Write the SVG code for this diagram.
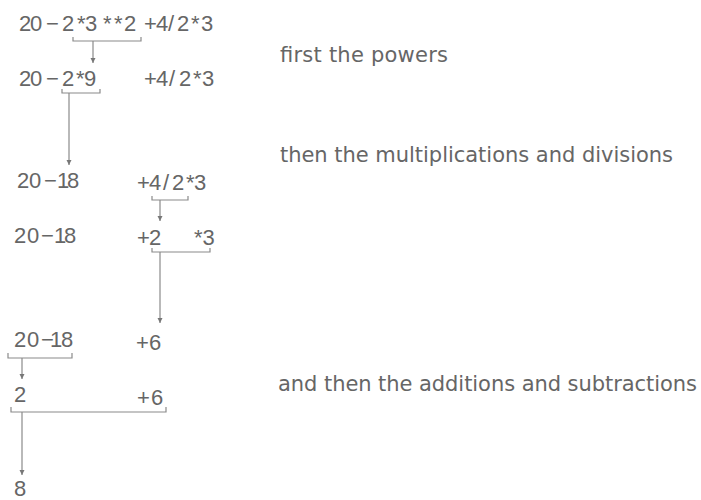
<svg xmlns="http://www.w3.org/2000/svg" width="701" height="500" viewBox="0 0 701 500">
<style>
.ex{font-family:"Liberation Sans",Arial,sans-serif;font-size:22px;fill:#666}
.lb{font-family:"DejaVu Sans",sans-serif;font-size:21px;fill:#666}
.br{fill:none;stroke:#8a8a8a;stroke-width:1.2}
.ar{fill:none;stroke:#8a8a8a;stroke-width:1.2;marker-end:url(#ah)}
</style>
<defs>
<marker id="ah" markerUnits="userSpaceOnUse" markerWidth="6" markerHeight="6" refX="5" refY="3" orient="auto">
<path d="M0,0.5 L5,3 L0,5.5 z" fill="#777"/>
</marker>
</defs>
<rect width="701" height="500" fill="#fff"/>
<g id="row1"><text class="ex" x="19 30 46 62 77 85 103 114 124 144 156 168 177 191 201" y="31">20−2*3**2+4/2*3</text></g>
<g id="row2-left"><text class="ex" x="19 30 46 62 76 84" y="86">20−2*9</text></g>
<g id="row2-right"><text class="ex" x="144 156 169 179 193 202" y="86">+4/2*3</text></g>
<g id="row3-left"><text class="ex" x="17 29 44 57 67" y="188">20−18</text></g>
<g id="row3-right"><text class="ex" x="137 149 163 172 186 194" y="190">+4/2*3</text></g>
<g id="row4-left"><text class="ex" x="14 27 41 54 64" y="243">20−18</text></g>
<g id="row4-right"><text class="ex" x="137 149 186 194" y="245">+2 *3</text></g>
<g id="row5-left"><text class="ex" x="14 27 41 50 61" y="347">20−18</text></g>
<g id="row5-right"><text class="ex" x="136 149" y="350">+6</text></g>
<g id="row6-left"><text class="ex" x="14" y="402">2</text></g>
<g id="row6-right"><text class="ex" x="137 151" y="405">+6</text></g>
<g id="result"><text class="ex" x="14" y="496">8</text></g>
<g id="label-powers"><text class="lb" x="280" y="62" textLength="168" lengthAdjust="spacing">first the powers</text></g>
<g id="label-muldiv"><text class="lb" x="280" y="162" textLength="393" lengthAdjust="spacing">then the multiplications and divisions</text></g>
<g id="label-addsub"><text class="lb" x="278" y="391" textLength="419" lengthAdjust="spacing">and then the additions and subtractions</text></g>
<g id="connectors">
<path class="br" d="M73,37 V41 H141 V37"/>
<path class="ar" d="M93,41 V63"/>
<path class="br" d="M62,89 V93 H100 V89"/>
<path class="ar" d="M69,93 V165"/>
<path class="br" d="M152,196 V200 H188 V196"/>
<path class="ar" d="M160,200 V221"/>
<path class="br" d="M152,248 V252 H210 V248"/>
<path class="ar" d="M160,252 V323"/>
<path class="br" d="M8,353 V358 H72 V353"/>
<path class="ar" d="M22,358 V379"/>
<path class="br" d="M11,407 V412 H166 V407"/>
<path class="ar" d="M22,412 V475"/>
</g>
</svg>
